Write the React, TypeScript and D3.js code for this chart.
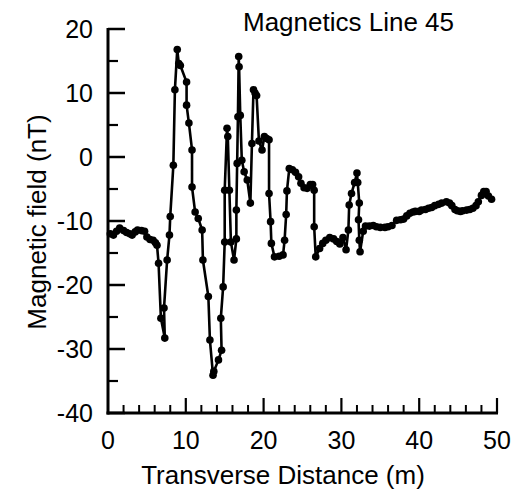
import React, { useEffect, useRef } from "react";
import * as d3 from "d3";

const title = "Magnetics Line 45";
const xTitle = "Transverse Distance (m)";
const yTitle = "Magnetic field (nT)";
const xMajorTicks = [0, 10, 20, 30, 40, 50];
const yMajorTicks = [-40, -30, -20, -10, 0, 10, 20];

const distance = [
  0.3, 0.7, 1.1, 1.5, 2.0, 2.4, 2.8, 3.1, 3.5, 3.8, 4.3, 4.7, 5.0, 5.4, 5.8, 6.1, 6.3,
  6.5, 6.8, 7.3, 7.2, 7.6, 7.9, 8.0, 8.4, 8.6, 8.9, 9.1, 9.3, 10.1, 10.1, 10.4, 10.8,
  10.8, 11.2, 11.6, 12.1, 12.2, 12.9, 13.1, 13.5, 13.6, 14.2, 14.6, 14.5, 14.8, 15.0,
  15.0, 15.3, 15.4, 15.6, 15.8, 16.2, 16.5, 16.5, 16.6, 16.7, 16.8, 16.85, 17.0, 17.2,
  17.5, 17.9, 18.3, 18.5, 18.7, 18.9, 19.1, 19.4, 19.8, 20.1, 20.4, 20.7, 20.7, 20.9,
  21.0, 21.4, 22.0, 22.5, 22.7, 22.9, 23.0, 23.3, 23.7, 24.1, 24.5, 24.8, 25.2, 25.6,
  26.0, 26.3, 26.5, 26.5, 26.7, 27.2, 27.6, 28.0, 28.5, 29.0, 29.4, 29.8, 30.2, 30.6,
  30.9, 31.0, 31.3, 31.7, 32.0, 32.1, 32.3, 32.2, 32.3, 32.4, 32.8, 33.1, 33.6, 34.1,
  34.5, 35.0, 35.6, 36.0, 36.5, 37.1, 37.6, 38.0, 38.4, 38.8, 39.2, 39.5, 40.0, 40.3,
  40.8, 41.2, 41.6, 42.0, 42.5, 42.9, 43.5, 43.9, 44.2, 44.6, 44.9, 45.3, 45.6, 46.1,
  46.5, 46.9, 47.3, 47.6, 48.0, 48.3, 48.6, 48.9, 49.3
];
const field = [
  -12.0, -12.2, -11.6, -11.1, -11.5, -11.8, -12.0, -12.2, -11.7, -11.4, -11.5, -11.6,
  -12.5, -12.9, -13.0, -13.4, -13.8, -16.6, -25.2, -28.3, -23.6, -16.1, -12.2, -9.3,
  -1.3, 10.5, 16.8, 14.6, 14.3, 11.7, 8.1, 5.3, 1.1, -4.7, -8.6, -9.6, -11.4, -16.1,
  -21.8, -28.6, -34.1, -33.5, -31.7, -30.2, -25.2, -20.3, -13.3, -5.2, 4.5, 3.2, -5.2,
  -13.3, -16.1, -12.8, -8.3, -1.0, 6.3, 15.7, 14.1, 6.5, -0.5, -2.3, -3.6, -7.2, 2.1,
  10.5, 10.0, 9.6, 2.5, 1.1, 3.2, 2.9, 2.7, -5.7, -10.1, -13.5, -15.6, -15.5, -15.3,
  -13.0, -9.0, -5.3, -1.8, -2.0, -2.4, -3.1, -4.1, -4.8, -4.9, -4.3, -4.3, -5.2, -10.9,
  -15.6, -14.3, -13.5, -13.0, -12.6, -12.8, -13.2, -13.6, -12.6, -14.5, -11.4, -7.5,
  -5.7, -4.0, -2.5, -4.0, -7.2, -9.8, -13.0, -14.8, -11.6, -10.8, -10.8, -10.7, -10.9,
  -11.0, -11.0, -10.9, -10.7, -9.9, -9.8, -9.7, -9.2, -8.8, -8.6, -8.5, -8.5, -8.3,
  -8.2, -8.0, -7.9, -7.6, -7.4, -7.2, -7.0, -7.2, -7.6, -8.2, -8.4, -8.5, -8.4, -8.3,
  -8.2, -8.0, -7.6, -7.0, -6.0, -5.4, -5.4, -6.1, -6.6
];

const W = 515;
const H = 494;
const FONT = "'Liberation Sans', Arial, Helvetica, sans-serif";

export default function App() {
  const ref = useRef<SVGSVGElement>(null);

  useEffect(() => {
    const svg = d3.select(ref.current);
    svg.selectAll("*").remove();

    const x = d3.scaleLinear().domain([0, 50]).range([108, 497]);
    const y = d3.scaleLinear().domain([-40, 20]).range([413, 29]);

    const data = distance.map((d, i) => ({ x: d, y: field[i] }));

    // axes lines
    svg.append("line")
      .attr("x1", x(0)).attr("x2", x(0))
      .attr("y1", y(20) - 1).attr("y2", y(-40) + 1.5)
      .attr("stroke", "#000").attr("stroke-width", 3);
    svg.append("line")
      .attr("x1", x(0) - 1.5).attr("x2", x(50) + 1)
      .attr("y1", y(-40)).attr("y2", y(-40))
      .attr("stroke", "#000").attr("stroke-width", 3);

    // y ticks
    const yMinor = d3.range(-35, 20, 10);
    svg.selectAll(".ymaj").data(yMajorTicks).enter().append("line")
      .attr("x1", x(0)).attr("x2", x(0) + 17)
      .attr("y1", (d) => y(d)).attr("y2", (d) => y(d))
      .attr("stroke", "#000").attr("stroke-width", 2.5);
    svg.selectAll(".ymin").data(yMinor).enter().append("line")
      .attr("x1", x(0)).attr("x2", x(0) + 10)
      .attr("y1", (d) => y(d)).attr("y2", (d) => y(d))
      .attr("stroke", "#000").attr("stroke-width", 2.2);

    // x ticks
    const xMinor = d3.range(2, 50, 2).filter((d) => d % 10 !== 0);
    svg.selectAll(".xmaj").data(xMajorTicks.filter((d) => d > 0)).enter().append("line")
      .attr("x1", (d) => x(d)).attr("x2", (d) => x(d))
      .attr("y1", y(-40)).attr("y2", y(-40) - 15)
      .attr("stroke", "#000").attr("stroke-width", 2.2);
    svg.selectAll(".xmin").data(xMinor).enter().append("line")
      .attr("x1", (d) => x(d)).attr("x2", (d) => x(d))
      .attr("y1", y(-40)).attr("y2", y(-40) - 8)
      .attr("stroke", "#000").attr("stroke-width", 2);

    // tick labels
    svg.selectAll(".ylab").data(yMajorTicks).enter().append("text")
      .attr("x", 93).attr("y", (d) => y(d) + 9)
      .attr("text-anchor", "end")
      .attr("font-family", FONT).attr("font-size", 25)
      .text((d) => String(d));
    svg.selectAll(".xlab").data(xMajorTicks).enter().append("text")
      .attr("x", (d) => x(d)).attr("y", 449)
      .attr("text-anchor", "middle")
      .attr("font-family", FONT).attr("font-size", 25)
      .text((d) => String(d));

    // titles
    svg.append("text")
      .attr("x", 243).attr("y", 31)
      .attr("font-family", FONT).attr("font-size", 26)
      .text(title);
    svg.append("text")
      .attr("x", 283).attr("y", 484)
      .attr("text-anchor", "middle")
      .attr("font-family", FONT).attr("font-size", 26)
      .text(xTitle);
    svg.append("text")
      .attr("transform", `translate(46,222) rotate(-90)`)
      .attr("text-anchor", "middle")
      .attr("font-family", FONT).attr("font-size", 26)
      .text(yTitle);

    // data line and markers
    const line = d3.line<{ x: number; y: number }>().x((d) => x(d.x)).y((d) => y(d.y));
    svg.append("path").datum(data)
      .attr("d", line)
      .attr("fill", "none").attr("stroke", "#000").attr("stroke-width", 2.6)
      .attr("stroke-linejoin", "round");
    svg.selectAll(".pt").data(data).enter().append("circle")
      .attr("cx", (d) => x(d.x)).attr("cy", (d) => y(d.y))
      .attr("r", 3.8).attr("fill", "#000");
  }, []);

  return (
    <svg
      ref={ref}
      width={W}
      height={H}
      style={{ position: "absolute", left: 0, top: 0, background: "#fff" }}
    />
  );
}
